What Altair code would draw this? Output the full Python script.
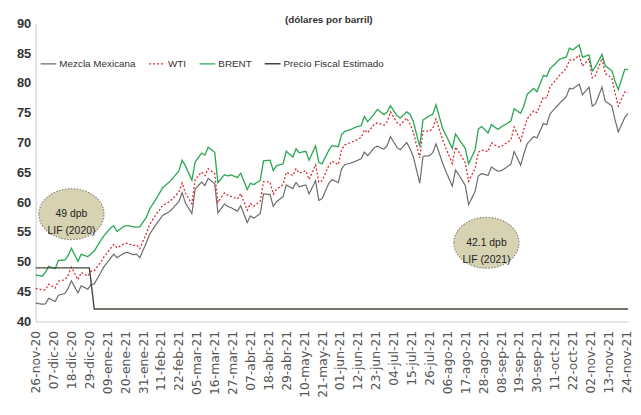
import altair as alt
import pandas as pd

# ---------------- data ----------------
brent = [47.80, 47.59, 48.25, 49.25, 48.84, 50.25, 50.29, 51.08, 52.26, 50.08,
         51.29, 50.86, 51.34, 51.80, 53.60, 54.38, 55.66, 56.06, 55.10, 55.90,
         56.10, 55.88, 55.81, 55.88, 57.46, 58.84, 60.56, 61.47, 62.43, 63.35,
         63.93, 65.24, 67.04, 66.13, 63.69, 66.74, 68.24, 67.90, 69.22, 68.39,
         63.28, 64.62, 64.41, 64.57, 64.14, 64.86, 62.15, 63.16, 62.95, 63.67,
         66.94, 67.05, 65.32, 66.11, 66.42, 68.56, 67.56, 68.96, 68.28, 68.55,
         67.05, 69.46, 66.66, 66.44, 68.65, 69.46, 69.32, 71.35, 71.89, 72.22,
         72.52, 72.86, 74.39, 73.51, 74.81, 75.56, 74.68, 75.13, 76.17, 74.53,
         74.12, 75.16, 74.76, 73.59, 69.35, 73.79, 74.50, 74.74, 76.33, 72.41,
         71.29, 69.04, 71.44, 70.59, 69.03, 66.45, 68.75, 72.25, 72.70, 71.63,
         73.03, 72.22, 72.60, 72.92, 73.60, 75.67, 74.92, 76.19, 78.09, 79.09,
         78.52, 81.26, 81.08, 82.39, 83.42, 84.00, 84.33, 85.82, 85.53, 86.40,
         84.32, 84.71, 81.99, 82.74, 84.78, 82.87, 82.05, 80.28, 78.89, 82.31,
         82.22]

wti = [45.53, 45.34, 45.28, 46.26, 45.60, 46.78, 46.99, 47.82, 49.10, 47.02,
       48.23, 47.62, 48.40, 48.52, 49.93, 50.83, 52.25, 52.91, 52.36, 52.98,
       53.13, 52.77, 52.85, 52.20, 54.76, 56.23, 57.97, 58.68, 59.47, 60.05,
       60.52, 61.70, 63.22, 61.50, 59.75, 63.83, 65.05, 64.44, 65.61, 64.80,
       60.00, 61.55, 61.18, 60.97, 60.55, 61.45, 58.65, 59.77, 59.32, 60.18,
       63.46, 63.38, 61.35, 62.14, 62.94, 65.01, 64.49, 65.63, 64.90, 65.28,
       63.82, 66.27, 63.36, 63.58, 66.07, 66.85, 66.32, 68.83, 69.62, 70.05,
       70.29, 70.88, 72.15, 71.64, 73.06, 73.30, 72.91, 73.47, 75.16, 73.37,
       72.94, 74.10, 73.13, 71.81, 67.42, 71.91, 71.91, 72.39, 73.95, 70.56,
       69.09, 66.48, 69.25, 68.44, 66.59, 63.50, 65.64, 68.36, 68.74, 68.50,
       69.99, 69.29, 69.30, 69.72, 70.46, 72.61, 70.29, 72.23, 73.98, 75.29,
       75.03, 77.62, 77.43, 79.35, 80.64, 81.31, 82.44, 83.87, 83.76, 84.65,
       82.81, 84.05, 80.86, 81.27, 84.15, 81.59, 80.88, 78.36, 76.10, 78.50,
       78.39]

mezcla = [43.10, 42.90, 42.95, 43.90, 43.35, 44.40, 44.70, 45.60, 46.80, 44.80,
          46.00, 45.40, 46.20, 46.30, 48.20, 49.20, 50.60, 51.30, 50.70, 51.40,
          51.60, 51.20, 51.30, 50.70, 53.20, 54.60, 56.30, 57.00, 57.80, 58.40,
          58.90, 60.10, 61.60, 59.90, 58.10, 62.20, 63.40, 62.80, 64.00, 63.10,
          58.20, 59.70, 59.30, 59.10, 58.50, 59.40, 56.60, 57.70, 57.30, 58.10,
          61.40, 61.30, 59.30, 60.10, 60.90, 62.90, 62.30, 63.30, 62.60, 62.90,
          61.40, 63.60, 60.30, 60.60, 63.10, 63.80, 63.30, 65.60, 66.30, 66.60,
          66.80, 67.30, 68.40, 67.80, 69.10, 69.40, 68.90, 69.50, 71.00, 69.20,
          68.80, 70.00, 69.00, 67.70, 63.20, 67.70, 67.80, 68.30, 69.80, 66.60,
          65.20, 62.70, 65.40, 64.60, 62.80, 59.60, 61.80, 64.40, 64.80, 64.50,
          65.90, 65.20, 65.30, 65.60, 66.40, 68.50, 66.20, 68.10, 69.80, 71.00,
          70.80, 73.20, 73.00, 74.80, 76.00, 76.60, 77.70, 79.10, 79.00, 79.80,
          78.00, 79.30, 76.10, 76.50, 79.30, 76.90, 76.20, 73.80, 71.80, 74.20,
          74.90]

fiscal_dates = ["2020-11-26", "2020-12-29", "2021-01-01", "2021-11-25"]
fiscal_values = [49.0, 49.0, 42.1, 42.1]

series_names = ["Mezcla Mexicana", "WTI", "BRENT", "Precio Fiscal Estimado"]
series_colors = ["#6b6b6b", "#d8262c", "#2aa853", "#45463a"]
series_dash = [[1, 0], [2, 2], [1, 0], [1, 0]]
series_width = [1.2, 1.4, 2.8, 2.0]

tick_dates = ["2020-11-26", "2020-12-07", "2020-12-18", "2020-12-29", "2021-01-09",
              "2021-01-20", "2021-01-31", "2021-02-11", "2021-02-22", "2021-03-05",
              "2021-03-16", "2021-03-27", "2021-04-07", "2021-04-18", "2021-04-29",
              "2021-05-10", "2021-05-21", "2021-06-01", "2021-06-12", "2021-06-23",
              "2021-07-04", "2021-07-15", "2021-07-26", "2021-08-06", "2021-08-17",
              "2021-08-28", "2021-09-08", "2021-09-19", "2021-09-30", "2021-10-11",
              "2021-10-22", "2021-11-02", "2021-11-13", "2021-11-24"]
y_ticks = [40, 45, 50, 55, 60, 65, 70, 75, 80, 85, 90]

ann_dates = ["2020-12-18", "2021-08-30"]
ann_values = [58.0, 53.2]
ann_labels = ["49 dpb\nLIF (2020)", "42.1 dpb\nLIF (2021)"]

# ---------------- tables ----------------
dates = pd.bdate_range("2020-11-26", periods=len(brent), freq="2B").strftime("%Y-%m-%d")
rows = []
for name, vals in [("Mezcla Mexicana", mezcla), ("WTI", wti), ("BRENT", brent)]:
    for d, v in zip(dates, vals):
        rows.append({"fecha": d, "valor": v, "serie": name})
df = pd.DataFrame(rows)
df_fiscal = pd.DataFrame({"fecha": fiscal_dates, "valor": fiscal_values,
                          "serie": "Precio Fiscal Estimado"})
df_ann = pd.DataFrame({"fecha": ann_dates, "valor": ann_values, "txt": ann_labels})


def ms(s):
    return int(pd.Timestamp(s, tz="UTC").timestamp() * 1000)


x_domain = [ms("2020-11-26"), ms("2021-11-25")]
tick_ms = [ms(t) for t in tick_dates]

FONT = "Liberation Sans, Arial, sans-serif"

x_enc = alt.X("fecha:T", scale=alt.Scale(type="utc", domain=x_domain),
              axis=alt.Axis(values=tick_ms, labelAngle=-90, ticks=False, grid=False,
                            domainColor="#c8c8c8", labelColor="#555555",
                            labelFont="DejaVu Sans", labelFontSize=12.5,
                            labelPadding=9, labelOverlap=False, labelBound=False,
                            labelFlush=False, title=None,
                            labelExpr="utcFormat(datum.value, '%d') + '-' + "
                                      "['ene','feb','mar','abr','may','jun','jul','ago','sep','oct','nov','dic'][utcmonth(datum.value)]"
                                      " + '-' + utcFormat(datum.value, '%y')"))
y_enc = alt.Y("valor:Q", scale=alt.Scale(domain=[40, 90], nice=False, zero=False),
              axis=alt.Axis(values=y_ticks, ticks=False, grid=False, domainColor="#c8c8c8",
                            labelColor="#333333", labelFont=FONT, labelFontWeight="bold",
                            labelFontSize=13, labelPadding=5, labelOverlap=False,
                            labelFlush=False, title=None))

color_enc = alt.Color("serie:N", scale=alt.Scale(domain=series_names, range=series_colors),
                      legend=alt.Legend(title=None, orient="none", legendX=4, legendY=32,
                                        direction="horizontal", symbolType="stroke",
                                        symbolSize=256, labelFont=FONT, labelFontSize=10,
                                        labelColor="#333333", columnPadding=10,
                                        labelOffset=2, labelLimit=200))
dash_enc = alt.StrokeDash("serie:N", scale=alt.Scale(domain=series_names, range=series_dash),
                          legend=None)
width_enc = alt.StrokeWidth("serie:N", scale=alt.Scale(domain=series_names, range=series_width),
                            legend=None)

lines = alt.Chart(df).mark_line().encode(
    x=x_enc, y=y_enc, color=color_enc, strokeDash=dash_enc, strokeWidth=width_enc,
    order=alt.Order("fecha:T"))

fiscal = alt.Chart(df_fiscal).mark_line().encode(
    x=x_enc, y=y_enc, color=color_enc, strokeDash=dash_enc, strokeWidth=width_enc)

ellipse = alt.Chart(df_ann).mark_point(
    shape="M -1 0 A 1 0.78 0 1 0 1 0 A 1 0.78 0 1 0 -1 0 Z",
    filled=True, fill="#d6d2b2", stroke="#8a8a80", strokeWidth=1.2,
    strokeDash=[1.5, 1.5], opacity=1, size=4356
).encode(x=x_enc, y=y_enc)

ann_text = alt.Chart(df_ann).mark_text(
    font=FONT, fontSize=10.5, color="#222222", lineBreak="\n", lineHeight=17
).encode(x=x_enc, y=y_enc, text="txt:N")

chart = alt.layer(lines, fiscal, ellipse, ann_text).properties(
    width=600, height=302,
    title=alt.TitleParams("(dólares por barril)", anchor="start", dx=272, offset=-8,
                          font=FONT, fontSize=10, fontWeight="bold", color="#333333"),
    padding={"left": 8, "top": 5, "right": 0, "bottom": 0}
).configure_view(stroke=None)

chart.save("out.html", embed_options={"renderer": "svg", "actions": False})
